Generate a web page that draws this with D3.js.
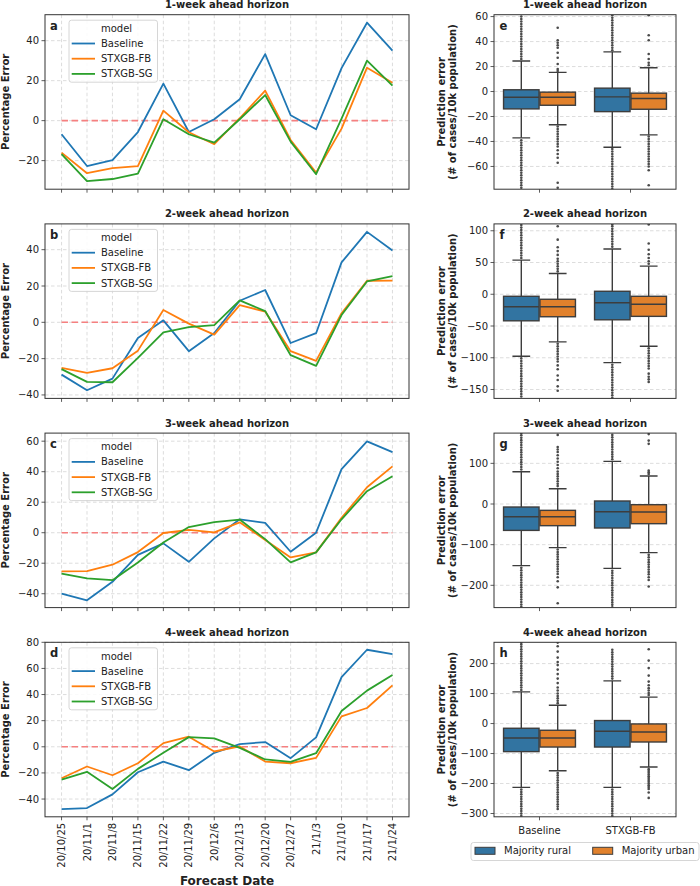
<!DOCTYPE html>
<html><head><meta charset="utf-8">
<script src="https://cdn.jsdelivr.net/npm/d3@7"></script>
<style>body{margin:0;background:#fff} text{font-family:"DejaVu Sans",sans-serif;fill:#222}</style>
</head><body><svg id="c" width="700" height="886"></svg>
<script>
// ---------------- DATA ----------------
const dates = ["20/10/25","20/11/1","20/11/8","20/11/15","20/11/22","20/11/29","20/12/6","20/12/13","20/12/20","20/12/27","21/1/3","21/1/10","21/1/17","21/1/24"];
const models = ["Baseline","STXGB-FB","STXGB-SG"];
const horizons = ["1-week ahead horizon","2-week ahead horizon","3-week ahead horizon","4-week ahead horizon"];
const letters = ["a","b","c","d","e","f","g","h"];

const baseline1 = [-6.8,-22.7,-19.8,-5.7,18.5,-5.7,0.7,10.7,33.3,2.7,-4.3,26.3,49,35];
const fb1       = [-16,-26.3,-23.8,-22.8,5,-5.8,-11.8,1.2,15,-9.7,-26,-4,26.5,19];
const sg1       = [-16.8,-30.3,-29.2,-26.5,0.7,-6.8,-11,0.7,12.8,-10.5,-26.8,1,30,17.5];

const baseline2 = [-28.8,-37.4,-31,-8.6,1.1,-15.9,-5.9,11.9,17.8,-11.4,-6,33,49.8,39.5];
const fb2       = [-25.1,-27.8,-25.3,-15.6,6.8,-0.7,-6.8,9.5,5.9,-15.9,-21.2,5,22.9,23];
const sg2       = [-25.8,-32.8,-33,-19.6,-5.5,-2.7,-1.6,12.1,6.2,-18.1,-24,4,22.5,25.5];

const baseline3 = [-39.9,-44.3,-32.2,-14.5,-7,-19.1,-3.7,8.8,6.4,-12.5,0,41.7,59.9,52.8];
const fb3       = [-25.4,-25.2,-21,-12.7,-0.2,1.8,0.2,6.8,-4.8,-16.2,-12.9,9.7,29.8,43.5];
const sg3       = [-26.8,-30,-31.1,-19.5,-6.4,3.7,7,8.6,-4.2,-19.5,-12.9,8.8,27.2,37];

const baseline4 = [-47.7,-46.9,-36.4,-19.5,-11.3,-17.9,-4.6,2.1,3.6,-8.7,7.2,53.3,74.3,71];
const fb4       = [-24.1,-15.1,-21.8,-12.6,2.8,7.7,-3.6,0.3,-11.3,-12.6,-8.5,23.3,29.7,47];
const sg4       = [-25.1,-19.2,-32.3,-16.9,-4.6,7.4,6.4,-0.8,-9.7,-11.5,-4.9,27.4,43,55];

const leftDomains = [[-34.3,53],[-41.9,54.2],[-49.1,65.3],[-53.6,80]];
const leftTicks = [[-20,0,20,40],[-40,-20,0,20,40],[-40,-20,0,20,40,60],[-40,-20,0,20,40,60,80]];

const boxModels = ["Baseline","STXGB-FB"];
const hues = ["Majority rural","Majority urban"];
const rightDomains = [[-78.2,61.5],[-164,110.8],[-254.8,174.4],[-311,271]];
const rightTicks = [[-60,-40,-20,0,20,40,60],[-150,-100,-50,0,50,100],[-200,-100,0,100],[-300,-200,-100,0,100,200]];

// box stats: [whiskerLow, q1, median, q3, whiskerHigh]; order: Baseline-rural, Baseline-urban, FB-rural, FB-urban
const box1 = [[-37.1,-13.9,-4.6,1.4,24.4],[-26.6,-11,-4.6,-0.5,15.3],[-44.6,-16.1,-4.3,2.7,31.7],[-34.7,-14.2,-5.6,-1.3,19]];
const box2 = [[-97.6,-41.8,-19.6,-3.2,53.8],[-75,-35.4,-19.6,-7.9,32.6],[-107.6,-40.2,-13.3,4.7,71.2],[-81.8,-34.8,-15.8,-3.2,44.3]];
const box3 = [[-151.6,-64.9,-31.2,-7.4,79.4],[-107.4,-53.3,-31.5,-15.6,37.6],[-158.2,-59,-19,7.4,104.9],[-119.7,-48.4,-19.7,-1.7,68.8]];
const box4 = [[-213,-93.6,-48,-15.7,105.7],[-157.2,-78.3,-48,-22.4,61.2],[-213,-78.3,-25.8,10,142.5],[-145,-61.5,-28,-1.3,88]];

const fliers1 = [
  [26,28,30,32,34,36,38,40,42,44,46,48,50,52,54,56,58,60,-39,-41,-43,-45,-47,-49,-51,-53,-55,-57,-59,-61,-63,-65,-67,-69,-71,-73,-75,-77],
  [16.5,18,22,27,31,35,37,39,41,51,-28,-30,-32,-34,-36,-38,-40,-42,-44,-47,-50,-53,-57,-73,-77],
  [33,35,37,39,41,43,45,47,49,51,53,55,57,59,61,-46,-48,-50,-52,-54,-56,-58,-60,-62,-64,-66,-68,-70,-72,-74,-76,-78],
  [21,23,26,30,41,45,61,-36,-38,-40,-42,-44,-46,-48,-50,-52,-54,-56,-58,-60,-63,-75]];
const fliers2 = [
  [57,61,65,69,73,77,81,85,89,93,97,101,105,109,-101,-105,-109,-113,-117,-121,-125,-129,-133,-137,-141,-145,-149,-153,-157,-161],
  [36,40,44,48,52,56,62,68,74,86,107,-78,-82,-86,-90,-94,-98,-102,-106,-112,-118,-128,-135,-145,-152],
  [75,79,83,87,91,95,99,103,107,110,-111,-115,-119,-123,-127,-131,-135,-139,-143,-147,-151,-155,-159,-163],
  [48,52,57,63,70,80,110,-85,-89,-93,-97,-101,-105,-109,-113,-117,-125,-130,-134,-138]];
const fliers3 = [
  [85,91,97,103,109,115,121,127,133,139,145,151,157,163,169,174,-157,-163,-169,-175,-181,-187,-193,-199,-205,-211,-217,-223,-229,-235,-241,-247,-253],
  [44,50,56,62,68,74,80,88,96,104,112,120,128,134,140,170,-112,-118,-124,-130,-136,-142,-148,-154,-160,-166,-172,-180,-190,-205,-244],
  [110,116,122,128,134,140,146,152,158,164,170,-164,-170,-176,-182,-188,-194,-200,-206,-212,-218,-224,-230,-236,-242,-248,-254],
  [74,78,82,148,156,172,-125,-131,-137,-143,-149,-155,-161,-167,-173,-180,-187,-203]];
const fliers4 = [
  [112,120,128,136,144,152,160,168,176,184,192,200,208,216,224,232,240,248,256,264,270,-220,-228,-236,-244,-252,-260,-268,-276,-284,-292,-300,-308],
  [68,76,84,92,100,110,120,135,150,165,180,195,205,220,240,258,270,-165,-173,-181,-189,-197,-205,-213,-221,-229,-237,-245,-253,-261,-269,-277,-285],
  [150,158,166,174,182,190,198,206,214,222,230,238,246,-220,-228,-236,-244,-252,-260,-268,-276,-284,-292,-300,-308],
  [95,102,110,118,128,140,160,185,210,248,-152,-158,-164,-170,-176,-182,-188,-194,-200,-206,-212,-218,-230,-248]];

const lineSeries = [[baseline1,fb1,sg1],[baseline2,fb2,sg2],[baseline3,fb3,sg3],[baseline4,fb4,sg4]];
const boxes = [box1,box2,box3,box4];
const fliers = [fliers1,fliers2,fliers3,fliers4];

// ---------------- STYLE ----------------
const lineColors = ["#1f77b4","#ff7f0e","#2ca02c"];
const boxColors = ["#3274a1","#e1812c"];
const edge = "#3d3d3d";
const spineCol = "#333";
const gridCol = "#d4d4d4";
const fmt = d3.format("");

const svg = d3.select("#c");
const L0 = 45, L1 = 409, R0 = 494, R1 = 676;
const top0 = 14.7, rowStep = 209.2, H = 174.5;

const defs = svg.append("defs");

const xL = d3.scaleLinear().domain([-0.65, dates.length - 1 + 0.65]).range([L0, L1]);
const xR = d3.scaleLinear().domain([-0.5, 1.5]).range([R0, R1]);

function spines(g, x0, x1, y0, y1) {
  g.append("rect").attr("x", x0).attr("y", y0).attr("width", x1 - x0).attr("height", y1 - y0)
    .attr("fill", "none").attr("stroke", spineCol).attr("stroke-width", 1);
}

for (let i = 0; i < 4; i++) {
  const t = top0 + i * rowStep, b = t + H;
  // ---------- left line panel ----------
  const y = d3.scaleLinear().domain(leftDomains[i]).range([b, t]);
  const g = svg.append("g");
  g.selectAll(".vg").data(dates).join("line")
    .attr("x1", (d, j) => xL(j)).attr("x2", (d, j) => xL(j)).attr("y1", t).attr("y2", b)
    .attr("stroke", gridCol).attr("stroke-width", 0.8).attr("stroke-dasharray", "3.5,2.5");
  g.selectAll(".hg").data(leftTicks[i]).join("line")
    .attr("x1", L0).attr("x2", L1).attr("y1", d => y(d)).attr("y2", d => y(d))
    .attr("stroke", gridCol).attr("stroke-width", 0.8).attr("stroke-dasharray", "3.5,2.5");
  g.append("line").attr("x1", xL(0)).attr("x2", xL(dates.length - 1))
    .attr("y1", y(0)).attr("y2", y(0))
    .attr("stroke", "#f58080").attr("stroke-width", 1.6).attr("stroke-dasharray", "6.5,3.5");
  const line = d3.line().x((d, j) => xL(j)).y(d => y(d));
  lineSeries[i].forEach((s, k) => {
    g.append("path").attr("d", line(s)).attr("fill", "none")
      .attr("stroke", lineColors[k]).attr("stroke-width", 1.8).attr("stroke-linejoin", "round");
  });
  spines(g, L0, L1, t, b);
  g.selectAll(".yt").data(leftTicks[i]).join("line")
    .attr("x1", L0 - 3.5).attr("x2", L0).attr("y1", d => y(d)).attr("y2", d => y(d))
    .attr("stroke", spineCol).attr("stroke-width", 0.8);
  g.selectAll(".yl").data(leftTicks[i]).join("text")
    .attr("x", L0 - 6).attr("y", d => y(d)).attr("dy", "0.35em").attr("text-anchor", "end")
    .attr("font-size", 10).text(d => fmt(d));
  g.selectAll(".xt").data(dates).join("line")
    .attr("x1", (d, j) => xL(j)).attr("x2", (d, j) => xL(j)).attr("y1", b).attr("y2", b + 3.5)
    .attr("stroke", spineCol).attr("stroke-width", 0.8);
  if (i === 3) {
    g.selectAll(".xl").data(dates).join("text")
      .attr("transform", (d, j) => `translate(${xL(j)},${b + 6}) rotate(-90)`)
      .attr("dy", "0.35em").attr("text-anchor", "end").attr("font-size", 10).text(d => d);
    g.append("text").attr("x", (L0 + L1) / 2).attr("y", 884.5).attr("text-anchor", "middle")
      .attr("font-size", 12).attr("font-weight", "bold").text("Forecast Date");
  }
  g.append("text").attr("x", (L0 + L1) / 2).attr("y", t - 6.5).attr("text-anchor", "middle")
    .attr("font-size", 10).attr("font-weight", "bold").text(horizons[i]);
  g.append("text").attr("transform", `translate(9,${(t + b) / 2}) rotate(-90)`)
    .attr("text-anchor", "middle").attr("font-size", 10).attr("font-weight", "bold").text("Percentage Error");
  g.append("text").attr("x", 50).attr("y", t + 15).attr("font-size", 11.5).attr("font-weight", "bold").text(letters[i]);
  const lg = g.append("g");
  lg.append("rect").attr("x", 69).attr("y", t + 5.5).attr("width", 88.5).attr("height", 62).attr("rx", 2.5)
    .attr("fill", "rgba(255,255,255,0.85)").attr("stroke", "#cccccc").attr("stroke-width", 0.8);
  lg.append("text").attr("x", 116.5).attr("y", t + 13.8).attr("dy", "0.35em").attr("text-anchor", "middle")
    .attr("font-size", 10).text("model");
  models.forEach((m, k) => {
    const yy = t + 28.8 + k * 15.2;
    lg.append("line").attr("x1", 71.7).attr("x2", 95).attr("y1", yy).attr("y2", yy)
      .attr("stroke", lineColors[k]).attr("stroke-width", 1.8);
    lg.append("text").attr("x", 101).attr("y", yy).attr("dy", "0.35em").attr("font-size", 10).text(m);
  });

  // ---------- right box panel ----------
  const yr = d3.scaleLinear().domain(rightDomains[i]).range([b, t]);
  const gr = svg.append("g");
  const cid = "clip" + i;
  defs.append("clipPath").attr("id", cid).append("rect")
    .attr("x", R0).attr("y", t).attr("width", R1 - R0).attr("height", H);
  gr.selectAll(".hg").data(rightTicks[i]).join("line")
    .attr("x1", R0).attr("x2", R1).attr("y1", d => yr(d)).attr("y2", d => yr(d))
    .attr("stroke", gridCol).attr("stroke-width", 0.8).attr("stroke-dasharray", "3.5,2.5");
  const inner = gr.append("g").attr("clip-path", `url(#${cid})`);
  const bw = 0.4 * (xR(1) - xR(0)) * 0.975;
  boxes[i].forEach((st, k) => {
    const mi = Math.floor(k / 2), hi = k % 2;
    const cx = xR(mi) + (hi === 0 ? -0.2 : 0.2) * (xR(1) - xR(0));
    const [wl, q1, md, q3, wh] = st;
    inner.append("line").attr("x1", cx).attr("x2", cx).attr("y1", yr(q3)).attr("y2", yr(wh))
      .attr("stroke", edge).attr("stroke-width", 1.4);
    inner.append("line").attr("x1", cx).attr("x2", cx).attr("y1", yr(q1)).attr("y2", yr(wl))
      .attr("stroke", edge).attr("stroke-width", 1.4);
    [wl, wh].forEach(v => inner.append("line").attr("x1", cx - bw / 4).attr("x2", cx + bw / 4)
      .attr("y1", yr(v)).attr("y2", yr(v)).attr("stroke", edge).attr("stroke-width", 1.4));
    inner.selectAll(null).data(fliers[i][k]).join("circle")
      .attr("cx", cx).attr("cy", d => yr(d)).attr("r", 1.3).attr("fill", "#4a4a4a");
    inner.append("rect").attr("x", cx - bw / 2).attr("y", yr(q3)).attr("width", bw).attr("height", yr(q1) - yr(q3))
      .attr("fill", boxColors[hi]).attr("stroke", edge).attr("stroke-width", 1.4);
    inner.append("line").attr("x1", cx - bw / 2).attr("x2", cx + bw / 2).attr("y1", yr(md)).attr("y2", yr(md))
      .attr("stroke", edge).attr("stroke-width", 1.4);
  });
  spines(gr, R0, R1, t, b);
  gr.selectAll(".yt").data(rightTicks[i]).join("line")
    .attr("x1", R0 - 3.5).attr("x2", R0).attr("y1", d => yr(d)).attr("y2", d => yr(d))
    .attr("stroke", spineCol).attr("stroke-width", 0.8);
  gr.selectAll(".yl").data(rightTicks[i]).join("text")
    .attr("x", R0 - 6).attr("y", d => yr(d)).attr("dy", "0.35em").attr("text-anchor", "end")
    .attr("font-size", 10).text(d => fmt(d));
  gr.selectAll(".xt").data(boxModels).join("line")
    .attr("x1", (d, j) => xR(j)).attr("x2", (d, j) => xR(j)).attr("y1", b).attr("y2", b + 3.5)
    .attr("stroke", spineCol).attr("stroke-width", 0.8);
  if (i === 3) {
    gr.selectAll(".xl").data(boxModels).join("text")
      .attr("x", (d, j) => xR(j)).attr("y", b + 13.5).attr("dy", "0.35em").attr("text-anchor", "middle")
      .attr("font-size", 10).text(d => d);
    const lg2 = gr.append("g");
    lg2.append("rect").attr("x", 471).attr("y", 842.5).attr("width", 228).attr("height", 18).attr("rx", 2.5)
      .attr("fill", "#fff").attr("stroke", "#cccccc").attr("stroke-width", 0.8);
    hues.forEach((h, k) => {
      const x0 = k === 0 ? 475 : 592.7;
      lg2.append("rect").attr("x", x0).attr("y", 847.3).attr("width", 20).attr("height", 7)
        .attr("fill", boxColors[k]).attr("stroke", edge).attr("stroke-width", 1);
      lg2.append("text").attr("x", x0 + 29).attr("y", 850.8).attr("dy", "0.35em").attr("font-size", 10).text(h);
    });
  }
  gr.append("text").attr("x", (R0 + R1) / 2).attr("y", t - 6.5).attr("text-anchor", "middle")
    .attr("font-size", 10).attr("font-weight", "bold").text(horizons[i]);
  const yl = gr.append("text").attr("transform", `translate(0,${(t + b) / 2}) rotate(-90)`)
    .attr("text-anchor", "middle").attr("font-size", 10).attr("font-weight", "bold");
  yl.append("tspan").attr("x", 0).attr("y", 445).text("Prediction error");
  yl.append("tspan").attr("x", 0).attr("y", 456).text("(# of cases/10k population)");
  gr.append("text").attr("x", 499.5).attr("y", t + 15).attr("font-size", 11.5).attr("font-weight", "bold").text(letters[i + 4]);
}
</script></body></html>
